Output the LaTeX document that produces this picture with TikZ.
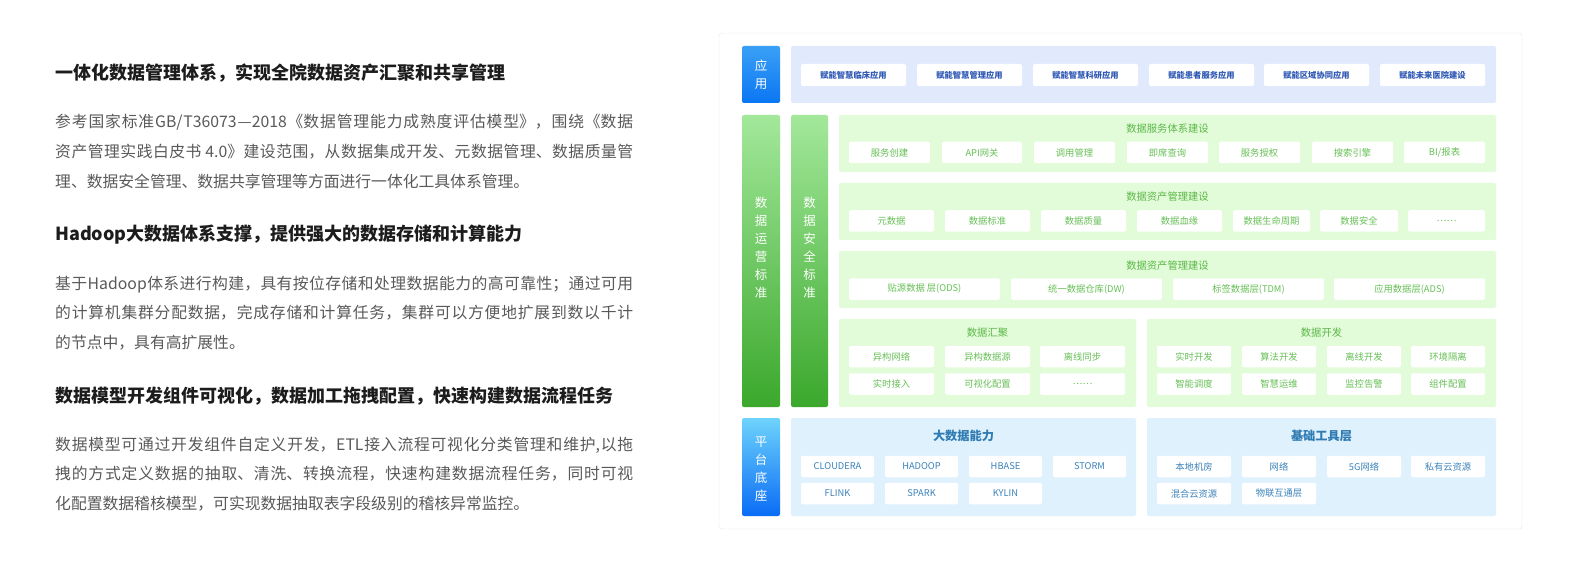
\documentclass[tikz,border=0pt]{standalone}
\usepackage{fontspec}
\setmainfont{Noto Sans CJK SC}
\definecolor{headc}{HTML}{1C1C1C}
\definecolor{parac}{HTML}{595959}
\definecolor{framec}{HTML}{E6E6E6}
\definecolor{appblue}{HTML}{2F58B5}
\definecolor{apppanel}{HTML}{E1EAFD}
\definecolor{gpanel}{HTML}{E2FBD8}
\definecolor{gtext}{HTML}{66C055}
\definecolor{gtitle}{HTML}{5CB84A}
\definecolor{ppanel}{HTML}{DFF1FC}
\definecolor{ptext}{HTML}{3B82B9}
\definecolor{ptitle}{HTML}{2F7BB3}
\definecolor{blueT}{HTML}{3AA0F6}
\definecolor{blueB}{HTML}{0A76F3}
\definecolor{cyanT}{HTML}{6ED3FC}
\definecolor{cyanB}{HTML}{0A6CF5}
\definecolor{greenT}{HTML}{A3E89B}
\definecolor{greenB}{HTML}{3BA82C}
\newcommand\jpar[1]{\parbox[t]{578pt}{\noindent\XeTeXlinebreaklocale "zh"\XeTeXlinebreakskip=0pt plus 3pt\fontsize{15.8}{29.8}\selectfont #1}}
\newcommand\itm[6]{\node[#1, minimum width={(#4-#3)*1pt}] (#2) at ({(#3+#4)/2},#5) {#6};}
\begin{document}
\begin{tikzpicture}[x=1pt,y=-1pt,
  head/.style={anchor=base west, inner sep=0pt, text=headc, font=\fontsize{18}{20}\selectfont\bfseries},
  para/.style={anchor=base west, inner sep=0pt, text=parac},
  appitem/.style={fill=white, rounded corners=2pt, inner sep=0pt, minimum height=22pt, text=appblue, font=\fontsize{8.3}{9}\selectfont\bfseries},
  gitem/.style={fill=white, rounded corners=2pt, inner sep=0pt, minimum height=21.5pt, text=gtext, font=\fontsize{9.3}{10}\selectfont},
  pitem/.style={fill=white, rounded corners=2pt, inner sep=0pt, minimum height=21.5pt, text=ptext, font=\fontsize{9.3}{10}\selectfont},
  gtitlest/.style={inner sep=0pt, text=gtitle, font=\fontsize{10.3}{11}\selectfont},
  ptitlest/.style={inner sep=0pt, text=ptitle, font=\fontsize{12.2}{13}\selectfont\bfseries},
  vlabel/.style={inner sep=0pt, text=white, align=center, font=\fontsize{12.5}{18}\selectfont}]
\useasboundingbox (0,0) rectangle (1573,561);
% left text
\node[head] (h1) at (55,79.5) {一体化数据管理体系，实现全院数据资产汇聚和共享管理};
\node[para] (p1) at (55,128) {\jpar{参考国家标准GB/T36073—2018《数据管理能力成熟度评估模型》，围绕《数据\linebreak 资产管理实践白皮书 4.0》建设范围，从数据集成开发、元数据管理、数据质量管\linebreak 理、数据安全管理、数据共享管理等方面进行一体化工具体系管理。}};
\node[head] (h2) at (55,241) {Hadoop大数据体系支撑，提供强大的数据存储和计算能力};
\node[para] (p2) at (55,289) {\jpar{基于Hadoop体系进行构建，具有按位存储和处理数据能力的高可靠性；通过可用\linebreak 的计算机集群分配数据，完成存储和计算任务，集群可以方便地扩展到数以千计\linebreak 的节点中，具有高扩展性。}};
\node[head] (h3) at (55,402) {数据模型开发组件可视化，数据加工拖拽配置，快速构建数据流程任务};
\node[para] (p3) at (55,450) {\jpar{数据模型可通过开发组件自定义开发，ETL接入流程可视化分类管理和维护,以拖\linebreak 拽的方式定义数据的抽取、清洗、转换流程，快速构建数据流程任务，同时可视\linebreak 化配置数据稽核模型，可实现数据抽取表字段级别的稽核异常监控。}};
% frame
\draw[framec, fill=white, rounded corners=3pt] (719,33) rectangle (1522,529);
% side labels
\shade[top color=blueT, bottom color=blueB, rounded corners=2pt] (742,46) rectangle (780,103);
\node[vlabel] (app) at (761,75) {应\\用};
\shade[top color=greenT, bottom color=greenB, rounded corners=2pt] (742,115) rectangle (780,407);
\node[vlabel] (ops) at (761,248) {数\\据\\运\\营\\标\\准};
\shade[top color=greenT, bottom color=greenB, rounded corners=2pt] (791,115) rectangle (828,407);
\node[vlabel] (sec) at (809.5,248) {数\\据\\安\\全\\标\\准};
\shade[top color=cyanT, bottom color=cyanB, rounded corners=2pt] (742,418) rectangle (780,516);
\node[vlabel] (plat) at (761,469) {平\\台\\底\\座};
% application row
\fill[apppanel, rounded corners=2pt] (791,46) rectangle (1496,103);
\itm{appitem}{a1}{801}{906}{75}{赋能智慧临床应用}
\itm{appitem}{a2}{917}{1022}{75}{赋能智慧管理应用}
\itm{appitem}{a3}{1033}{1138}{75}{赋能智慧科研应用}
\itm{appitem}{a4}{1149}{1254}{75}{赋能患者服务应用}
\itm{appitem}{a5}{1264}{1369}{75}{赋能区域协同应用}
\itm{appitem}{a6}{1380}{1485}{75}{赋能未来医院建设}
% panel 1
\fill[gpanel, rounded corners=2pt] (839,115) rectangle (1496,172);
\node[gtitlest] (t1) at (1167.5,129) {数据服务体系建设};
\itm{gitem}{s1}{849}{930}{152.5}{服务创建}
\itm{gitem}{s2}{942}{1022}{152.5}{API网关}
\itm{gitem}{s3}{1034}{1115}{152.5}{调用管理}
\itm{gitem}{s4}{1127}{1208}{152.5}{即席查询}
\itm{gitem}{s5}{1219}{1300}{152.5}{服务授权}
\itm{gitem}{s6}{1312}{1393}{152.5}{搜索引擎}
\itm{gitem}{s7}{1404}{1485}{152.5}{BI/报表}
% panel 2
\fill[gpanel, rounded corners=2pt] (839,183) rectangle (1496,240);
\node[gtitlest] (t2) at (1167.5,197) {数据资产管理建设};
\itm{gitem}{m1}{849}{934}{221}{元数据}
\itm{gitem}{m2}{945}{1030}{221}{数据标准}
\itm{gitem}{m3}{1041}{1126}{221}{数据质量}
\itm{gitem}{m4}{1137}{1222}{221}{数据血缘}
\itm{gitem}{m5}{1233}{1310}{221}{数据生命周期}
\itm{gitem}{m6}{1320}{1398}{221}{数据安全}
\itm{gitem}{m7}{1408}{1485}{221}{……}
% panel 3
\fill[gpanel, rounded corners=2pt] (839,251) rectangle (1496,308);
\node[gtitlest] (t3) at (1167.5,266) {数据资产管理建设};
\itm{gitem}{d1}{849}{1000}{289}{贴源数据 层(ODS)}
\itm{gitem}{d2}{1011}{1162}{289}{统一数据仓库(DW)}
\itm{gitem}{d3}{1173}{1324}{289}{标签数据层(TDM)}
\itm{gitem}{d4}{1334}{1485}{289}{应用数据层(ADS)}
% panel 4
\fill[gpanel, rounded corners=2pt] (839,319) rectangle (1136,407);
\node[gtitlest] (t4) at (987.5,333) {数据汇聚};
\itm{gitem}{c1}{849}{934}{356.5}{异构网络}
\itm{gitem}{c2}{945}{1030}{356.5}{异构数据源}
\itm{gitem}{c3}{1040}{1125}{356.5}{离线同步}
\itm{gitem}{c4}{849}{934}{384}{实时接入}
\itm{gitem}{c5}{945}{1030}{384}{可视化配置}
\itm{gitem}{c6}{1040}{1125}{384}{……}
% panel 5
\fill[gpanel, rounded corners=2pt] (1147,319) rectangle (1496,407);
\node[gtitlest] (t5) at (1321.5,333) {数据开发};
\itm{gitem}{e1}{1157}{1231}{356.5}{实时开发}
\itm{gitem}{e2}{1242}{1316}{356.5}{算法开发}
\itm{gitem}{e3}{1327}{1401}{356.5}{离线开发}
\itm{gitem}{e4}{1411}{1485}{356.5}{环境隔离}
\itm{gitem}{e5}{1157}{1231}{384}{智能调度}
\itm{gitem}{e6}{1242}{1316}{384}{智慧运维}
\itm{gitem}{e7}{1327}{1401}{384}{监控告警}
\itm{gitem}{e8}{1411}{1485}{384}{组件配置}
% platform left
\fill[ppanel, rounded corners=2pt] (791,418) rectangle (1136,516);
\node[ptitlest] (t6) at (963.5,436) {大数据能力};
\itm{pitem}{b1}{801}{874}{466.5}{CLOUDERA}
\itm{pitem}{b2}{885}{958}{466.5}{HADOOP}
\itm{pitem}{b3}{969}{1042}{466.5}{HBASE}
\itm{pitem}{b4}{1053}{1126}{466.5}{STORM}
\itm{pitem}{b5}{801}{874}{493.5}{FLINK}
\itm{pitem}{b6}{885}{958}{493.5}{SPARK}
\itm{pitem}{b7}{969}{1042}{493.5}{KYLIN}
% platform right
\fill[ppanel, rounded corners=2pt] (1147,418) rectangle (1496,516);
\node[ptitlest] (t7) at (1321.5,436) {基础工具层};
\itm{pitem}{f1}{1157}{1231}{466.5}{本地机房}
\itm{pitem}{f2}{1242}{1316}{466.5}{网络}
\itm{pitem}{f3}{1327}{1401}{466.5}{5G网络}
\itm{pitem}{f4}{1411}{1485}{466.5}{私有云资源}
\itm{pitem}{f5}{1157}{1231}{493.5}{混合云资源}
\itm{pitem}{f6}{1242}{1316}{493.5}{物联互通层}
\end{tikzpicture}
\end{document}
